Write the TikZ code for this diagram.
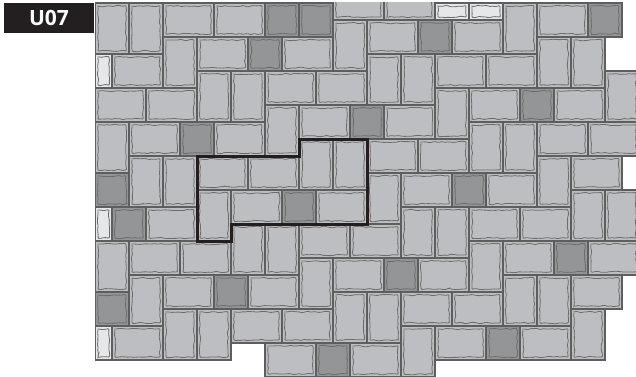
\documentclass[tikz,border=0pt]{standalone}
\usepackage{fontspec}
\setsansfont{Open Sans}
\usepackage{tikz}
\usetikzlibrary{decorations.pathmorphing}
\definecolor{slabGrey}{HTML}{BDBEC2}
\definecolor{slabDark}{HTML}{949597}
\definecolor{slabLight}{HTML}{E6E7E9}
\definecolor{groutGrey}{HTML}{5E5E5E}
\definecolor{waveGrey}{HTML}{6C6C6C}
\definecolor{tagBlack}{HTML}{231F20}

\begin{document}
\begin{tikzpicture}[x=1pt,y=-1pt,slab/.style={draw=groutGrey,line width=1.4pt,fill=slabGrey},darkslab/.style={slab,fill=slabDark},lightslab/.style={slab,fill=slabLight},wave/.style={draw=waveGrey,line width=0.8pt,rounded corners=1pt,decorate,decoration={random steps,segment length=3pt,amplitude=0.75pt}},outline/.style={draw=tagBlack,line width=3pt,line join=miter}]
    \pgfmathsetseed{7}
    \useasboundingbox (0,0) rectangle (636,376);
    \node[fill=tagBlack,text=white,font=\sffamily\bfseries\fontsize{21}{21}\selectfont,minimum width=90pt,minimum height=30pt,inner sep=0pt] (tag) at (49,18) {U07};
    \begin{scope}
      \clip (95,2.2) rectangle (636,376);
      \begin{scope}[shift={(95,3)},x=17pt,y=-17pt]
        % plain slabs: column/row/width/height in half units
        \foreach \c/\r/\w/\h in {0/0/2/3,2/0/2/3,4/0/3/2,7/0/3/2,14/-1/3/2,17/-1/3/2,24/0/2/3,26/0/3/2,
            1/3/3/2,4/2/2/3,6/2/3/2,11/2/3/2,14/1/2/3,16/1/3/2,21/1/3/2,26/2/2/3,28/2/2/3,
            0/5/3/2,3/5/3/2,6/4/2/3,8/4/2/3,10/4/3/2,13/4/3/2,16/3/2/3,18/3/2/3,20/3/3/2,23/3/3/2,30/4/2/3,
            10/6/2/3,12/6/3/2,17/6/3/2,20/5/2/3,22/5/3/2,27/5/3/2,
            0/7/2/3,2/7/3/2,7/7/3/2,22/7/2/3,24/7/2/3,26/7/3/2,29/7/3/2,
            12/8/2/3,14/8/2/3,16/8/3/2,19/8/3/2,
            2/9/2/3,4/9/2/3,6/9/3/2,9/9/3/2,26/9/2/3,28/9/3/2,
            16/10/2/3,18/10/3/2,23/10/3/2,
            6/11/2/3,8/11/3/2,13/11/3/2,28/11/2/3,30/11/2/3,
            3/12/3/2,18/12/2/3,20/12/2/3,22/12/3/2,25/12/3/2,
            8/13/2/3,10/13/2/3,12/13/3/2,15/13/3/2,
            0/14/2/3,2/14/3/2,5/14/3/2,22/14/2/3,24/14/3/2,29/14/3/2,
            12/15/2/3,14/15/3/2,19/15/3/2,
            2/16/2/3,4/16/3/2,9/16/3/2,24/16/2/3,26/16/2/3,28/16/3/2,
            14/17/2/3,16/17/2/3,18/17/3/2,21/17/3/2,
            4/18/2/3,6/18/2/3,8/18/3/2,11/18/3/2,28/18/2/3,
            1/19/3/2,18/19/2/3,20/19/3/2,25/19/3/2,
            10/20/3/2,15/20/3/2}{
          \draw[slab] (\c,\r) rectangle (\c+\w,\r+\h);
          \draw[wave] ([shift={(3pt,-3pt)}]\c,\r) rectangle ([shift={(-3pt,3pt)}]\c+\w,\r+\h);
        }
        % dark squares
        \foreach \c/\r in {10/0,12/0,29/0,9/2,19/1,15/6,25/5,5/7,0/10,21/10,11/11,1/12,27/14,17/15,7/16,0/17,23/19,13/20}{
          \draw[darkslab] (\c,\r) rectangle (\c+2,\r+2);
          \draw[wave] ([shift={(3pt,-3pt)}]\c,\r) rectangle ([shift={(-3pt,3pt)}]\c+2,\r+2);
        }
        % light strips
        \foreach \c/\r/\w/\h in {20/0/2/1,22/0/2/1,0/3/1/2,0/12/1/2,0/19/1/2}{
          \draw[lightslab] (\c,\r) rectangle (\c+\w,\r+\h);
          \draw[wave] ([shift={(3pt,-3pt)}]\c,\r) rectangle ([shift={(-3pt,3pt)}]\c+\w,\r+\h);
        }
        % laying unit
        \draw[outline] (6,9) -- (12,9) -- (12,8) -- (16,8) -- (16,13) -- (8,13) -- (8,14) -- (6,14) -- cycle;
      \end{scope}
    \end{scope}
  \end{tikzpicture}
\end{document}
